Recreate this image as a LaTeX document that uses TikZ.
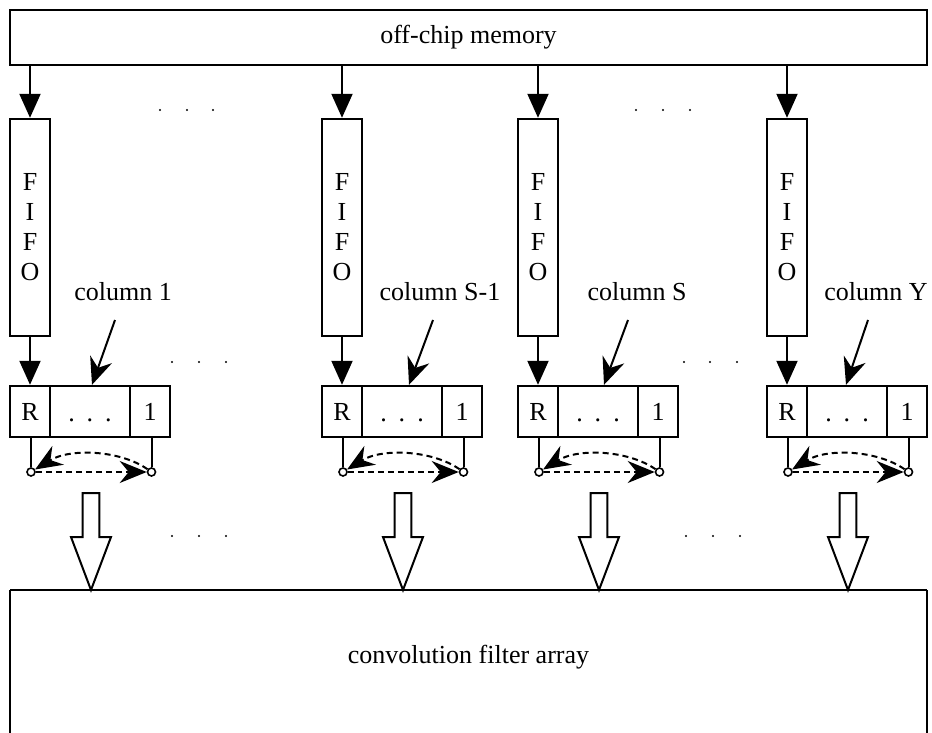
\documentclass[tikz,border=0pt]{standalone}
\usepackage{fontspec}
\setmainfont{Liberation Serif}
\usetikzlibrary{arrows.meta}
\tikzset{
  txt/.style={font=\fontsize{26}{30}\selectfont},
  box/.style={draw, line width=2.4pt, inner sep=0pt, txt},
  cell/.style={box, minimum height=51pt},
  solidarrow/.style={line width=2pt, -{Triangle[length=24pt,width=21pt]}},
  labarrow/.style={line width=2pt, -{Stealth[length=27pt,width=23pt,inset=9pt]}},
  dasharrow/.style={line width=2pt, dash pattern=on 6pt off 4pt, -{Stealth[length=27pt,width=22pt,inset=9pt]}},
  pinnode/.style={circle, draw, line width=1.6pt, fill=white, inner sep=0pt, minimum size=8pt},
  widearrow/.style={draw, line width=2pt, fill=white, line join=miter},
  smalldot/.style={fill=black},
}
\begin{document}
\begin{tikzpicture}[x=1pt,y=-1pt]
\useasboundingbox (0,0) rectangle (932,733);
\clip (0,0) rectangle (932,733);
\node[box, minimum width=917pt, minimum height=55pt] (mem) at (468.5,37.5) {off-chip memory};
\draw[line width=2pt] (10,590) -- (10,745) (927,590) -- (927,745) (10,590) -- (927,590);
\node[txt, inner sep=0pt] (conv) at (468.5,657) {convolution filter array};
\foreach \L/\lab/\lx/\ax/\tx/\n in {10/{column 1}/113/105/2/1, 322/{column S-1}/118/111/7/2, 518/{column S}/119/110/6/3, 767/{column Y}/109/101/-1/4}{
  \node[box, minimum width=40pt, minimum height=217pt, align=center] (fifo\n) at (\L+20,227.5) {F\\I\\F\\O};
  \node[cell, minimum width=40pt] (r\n) at (\L+20,411.5) {R};
  \node[cell, minimum width=80pt] (d\n) at (\L+80,411.5) {};
  \node[txt, inner sep=0pt, anchor=base] (dd\n) at (\L+80,421) {.\kern12pt.\kern12pt.};
  \node[cell, minimum width=40pt] (o\n) at (\L+140,411.5) {1};
  \draw[solidarrow] (fifo\n.north |- mem.south) -- (fifo\n.north);
  \draw[solidarrow] (fifo\n.south) -- (r\n.north);
  \node[txt, inner sep=0pt, anchor=base] (lab\n) at (\L+\lx,300) {\lab};
  \coordinate (st\n) at (\L+\ax,320);
  \draw[labarrow] (st\n) -- ([xshift=\tx pt]d\n.north);
  \node[pinnode] (pa\n) at (\L+21,472) {};
  \node[pinnode] (pb\n) at (\L+141.5,472) {};
  \draw[line width=2pt] (pa\n |- r\n.south) -- (pa\n.north);
  \draw[line width=2pt] (pb\n |- o\n.south) -- (pb\n.north);
  \draw[dasharrow] (pa\n) -- (pb\n);
  \draw[dasharrow] (pb\n) .. controls (\L+110,450) and (\L+60,448) .. (pa\n);
  \path[widearrow] (\L+72.7,493) -- (\L+89.3,493) -- (\L+89.3,537) -- (\L+101,537) -- (\L+81,590) -- (\L+61,537) -- (\L+72.7,537) -- cycle;
}
\foreach \x in {160,187,213,636,663,690}{\fill[smalldot] (\x,110) circle (1.2pt);}
\foreach \x in {172,199,226,684,710,737}{\fill[smalldot] (\x,362) circle (1.2pt);}
\foreach \x in {172,199,226,686,713,740}{\fill[smalldot] (\x,536) circle (1.2pt);}
\end{tikzpicture}
\end{document}
